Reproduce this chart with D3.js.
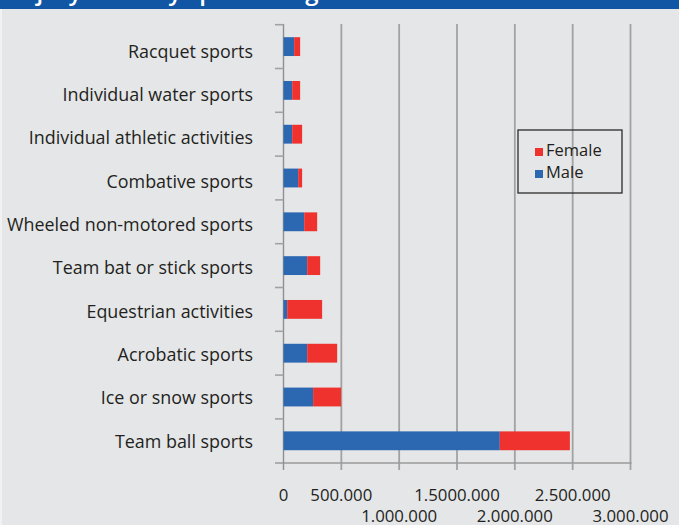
<!DOCTYPE html>
<html lang="en">
  <head>
    <meta charset="UTF-8" />
    <title>Injuries by sport</title>
    <style>
      body { margin: 0; background: #e5e6e8; }
      svg { display: block; font-family: "Open Sans", sans-serif; }
    </style>
  </head>
  <body>
    <div class="chart"></div>

    <script src="https://d3js.org/d3.v7.min.js"></script>
    <script>
      // data =================================================================
      const categories = [
        "Racquet sports",
        "Individual water sports",
        "Individual athletic activities",
        "Combative sports",
        "Wheeled non-motored sports",
        "Team bat or stick sports",
        "Equestrian activities",
        "Acrobatic sports",
        "Ice or snow sports",
        "Team ball sports",
      ];
      const male = [92000, 75000, 75000, 127000, 179000, 205000, 32000, 205000, 256000, 1870000];
      const female = [52000, 69000, 86000, 34000, 112000, 112000, 302000, 259000, 242000, 606000];
      const tickValues = [0, 500000, 1000000, 1500000, 2000000, 2500000, 3000000];
      const tickLabels = ["0", "500.000", "1.000.000", "1.5000.000", "2.000.000", "2.500.000", "3.000.000"];
      const seriesNames = ["Male", "Female"];
      const colors = { Male: "#2c67b1", Female: "#ef322d" };

      const W = 679, H = 525;
      const svg = d3.select(".chart").append("svg").attr("width", W).attr("height", H);

      svg.append("rect").attr("width", W).attr("height", H).attr("fill", "#e5e6e8");
      svg.append("rect").attr("width", 2).attr("height", H).attr("fill", "#f2f2f3");

      // header band, title cut off at the top edge (only descenders show)
      svg.append("rect").attr("width", W).attr("height", 9).attr("fill", "#1156a5");
      svg.append("text")
        .attr("x", 14).attr("y", 0)
        .attr("fill", "#fff")
        .attr("font-size", 24)
        .attr("font-weight", 600)
        .text("Injury rates by sport and gender");
      svg.append("rect").attr("y", 9).attr("width", W).attr("height", 15).attr("fill", "#e5e6e8");
      svg.append("rect").attr("y", 9).attr("width", 2).attr("height", 15).attr("fill", "#f2f2f3");

      // scales
      const x = d3.scaleLinear().domain([0, 3000000]).range([283.5, 630.5]);
      const y = d3.scaleBand().domain(categories).range([24.7, 462.7])
        .paddingInner(0.57).paddingOuter(0.285);
      const yLabel = d3.scalePoint().domain(categories).range([51, 441]);

      const plotTop = 24, plotBase = 463;

      // gridlines
      svg.append("g")
        .selectAll("line")
        .data(tickValues.slice(1))
        .join("line")
        .attr("x1", (d) => x(d)).attr("x2", (d) => x(d))
        .attr("y1", plotTop).attr("y2", plotBase + 7)
        .attr("stroke", "#a2a2a2")
        .attr("stroke-width", 1.8);

      // x axis line + y axis line
      svg.append("line")
        .attr("x1", 275).attr("x2", x(3000000) + 1)
        .attr("y1", plotBase).attr("y2", plotBase)
        .attr("stroke", "#9a9a9a").attr("stroke-width", 1.4);
      svg.append("line")
        .attr("x1", x(0)).attr("x2", x(0))
        .attr("y1", plotTop).attr("y2", plotBase + 7)
        .attr("stroke", "#8f8f8f").attr("stroke-width", 1.4);

      // y ticks at band edges
      const edges = categories.map((c) => y(c) - (y.step() - y.bandwidth()) / 2);
      svg.append("g")
        .selectAll("line")
        .data(edges)
        .join("line")
        .attr("x1", 275).attr("x2", x(0))
        .attr("y1", (d) => d).attr("y2", (d) => d)
        .attr("stroke", "#a2a2a2").attr("stroke-width", 1.6);

      // bars
      const rows = categories.map((c, i) => ({ cat: c, Male: male[i], Female: female[i] }));
      const stacked = d3.stack().keys(seriesNames)(rows);

      svg.append("g")
        .selectAll("g")
        .data(stacked)
        .join("g")
        .attr("fill", (s) => colors[s.key])
        .selectAll("rect")
        .data((s) => s)
        .join("rect")
        .attr("x", (d) => x(d[0]))
        .attr("y", (d) => y(d.data.cat))
        .attr("width", (d) => x(d[1]) - x(d[0]))
        .attr("height", y.bandwidth());

      // category labels
      svg.append("g")
        .selectAll("text")
        .data(categories)
        .join("text")
        .attr("x", 253)
        .attr("y", (d) => yLabel(d) + 6.5)
        .attr("text-anchor", "end")
        .attr("font-size", 17.9)
        .attr("fill", "#231f20")
        .text((d) => d);

      // x tick labels, staggered in two rows (0 sits on the upper row)
      svg.append("g")
        .selectAll("text")
        .data(tickValues)
        .join("text")
        .attr("x", (d) => x(d))
        .attr("y", (d, i) => (i === 0 || i % 2 === 1 ? 501 : 521.5))
        .attr("text-anchor", "middle")
        .attr("font-size", 16.8)
        .attr("fill", "#231f20")
        .text((d, i) => tickLabels[i]);

      // legend
      const legend = svg.append("g").attr("transform", "translate(518,130)");
      legend.append("rect")
        .attr("width", 104).attr("height", 63)
        .attr("fill", "none")
        .attr("stroke", "#2b2b2b").attr("stroke-width", 1.3);
      const legendItems = ["Female", "Male"];
      legend.selectAll("g.item")
        .data(legendItems)
        .join("g")
        .attr("class", "item")
        .attr("transform", (d, i) => `translate(17,${18 + i * 22})`)
        .call((g) => {
          g.append("rect").attr("width", 8).attr("height", 8).attr("fill", (d) => colors[d]);
          g.append("text")
            .attr("x", 11).attr("y", 8)
            .attr("font-size", 16.5)
            .attr("fill", "#231f20")
            .text((d) => d);
        });
    </script>
  </body>
</html>
